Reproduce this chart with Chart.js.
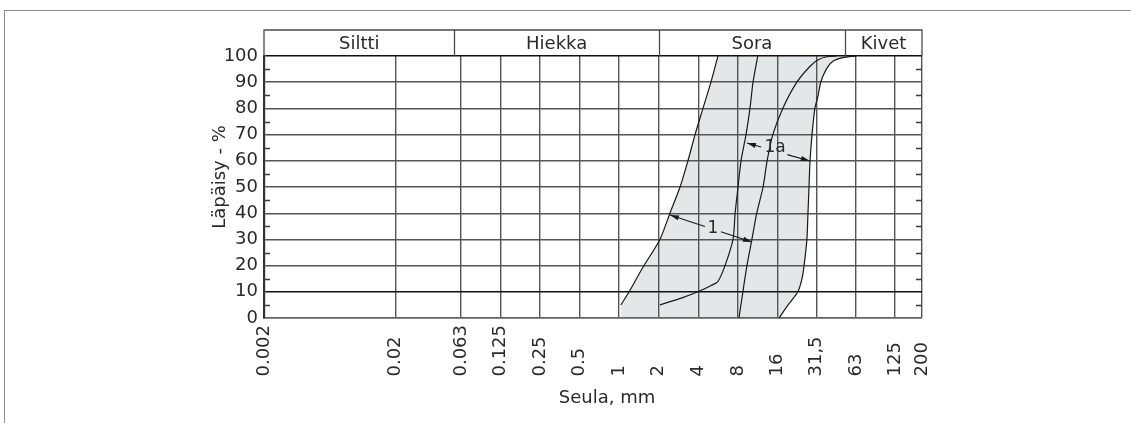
<!DOCTYPE html>
<html>
<head>
<meta charset="utf-8">
<script src="https://cdn.jsdelivr.net/npm/chart.js@4/dist/chart.umd.min.js"></script>
<style>
html,body{margin:0;padding:0;background:#fff;}
#wrap{position:relative;width:1131px;height:423px;overflow:hidden;}
#frame{position:absolute;left:4px;top:10px;width:1140px;height:430px;border-top:1px solid #8c8c8c;border-left:1px solid #8c8c8c;}
#c{position:absolute;left:0;top:0;}
</style>
</head>
<body>
<div id="wrap"><div id="frame"></div><canvas id="c" width="1131" height="423"></canvas></div>
<script>
// ---- axis data ----
const sieveSizes  = [0.002, 0.02, 0.063, 0.125, 0.25, 0.5, 1, 2, 4, 8, 16, 31.5, 63, 125, 200];
const sieveLabels = ['0.002','0.02','0.063','0.125','0.25','0.5','1','2','4','8','16','31,5','63','125','200'];
const passTicks = [0,10,20,30,40,50,60,70,80,90,100];
const passMinorTicks = [5,15,25,35,45,55,65,75,85,95];
const zoneNames  = ['Siltti','Hiekka','Sora','Kivet'];
const zoneLimits = [0.002, 0.056, 2, 52, 200];

// ---- grading curves: sieve (mm) and passing (%) ----
const curve1Left_mm   = [1.03, 1.19, 1.5, 2.04, 2.43, 2.9, 3.33, 3.77, 4.33, 4.98, 5.63];
const curve1Left_pct  = [5, 10, 19, 30, 40, 50, 60, 70, 80, 90, 100];
const curve1aLeft_mm  = [2.04, 3.0, 3.97, 5.0, 5.63, 6.37, 7.33, 7.6, 8.0, 8.43, 9.2, 9.86, 10.4, 11.3];
const curve1aLeft_pct = [5, 7.7, 10, 12.4, 14, 20, 30, 40, 50, 60, 70, 80, 90, 100];
const curve1Right_mm  = [8.13, 8.71, 9.35, 10.2, 11.1, 12.4, 13.3, 14.7, 17.5, 22.4, 28.1, 32.3, 38, 45];
const curve1Right_pct = [0, 10, 20, 30, 40, 50, 60, 70, 80, 90, 96, 98.5, 99.7, 100];
const curve1aRight_mm  = [16.4, 19.2, 22.8, 24.5, 25.4, 26.7, 27.2, 27.7, 28.2, 29.2, 30.7, 32.5, 34, 37.5, 42, 50, 63];
const curve1aRight_pct = [0, 5, 10, 15, 20, 30, 40, 50, 60, 70, 80, 85, 90, 95, 98, 99.4, 100];

// ---- band annotations (mm, %) ----
const bandNames   = ['1', '1a'];
const bandFrom_mm = [2.43, 9.35];
const bandFrom_pct= [39.3, 66.8];
const bandTo_mm   = [10.2, 28.1];
const bandTo_pct  = [29, 59.9];
const bandText_mm = [5.16, 15.3];
const bandText_pct= [34, 64.9];

const FONT = "'DejaVu Sans', Verdana, sans-serif";
const TXT = '#2a2a2a';

function pts(xs, ys){ return xs.map((v,i)=>({x:v, y:ys[i]})); }
function padLabel(s){
  let u = 0;
  for (const ch of s) u += /[0-9]/.test(ch) ? 2 : 1;
  return s + ' '.repeat(Math.max(0, 9 - u));
}

// envelope polygon (outer curves)
const envelope = [{x: curve1Left_mm[0], y: 0}]
  .concat(pts(curve1Left_mm, curve1Left_pct))
  .concat(pts(curve1aRight_mm, curve1aRight_pct).reverse());
envelope.push({x: curve1Left_mm[0], y: 0});

const curveStyle = {showLine:true, borderColor:'#1a1a1a', borderWidth:1.2, pointRadius:0, fill:false, tension:0.25};

const decor = {
  id: 'decor',
  afterDatasetsDraw(chart){
    const {ctx, scales:{x, y}} = chart;
    ctx.save();
    ctx.font = '17px ' + FONT;
    ctx.textAlign = 'center'; ctx.textBaseline = 'middle';
    for (let i = 0; i < bandNames.length; i++){
      const x1 = x.getPixelForValue(bandFrom_mm[i]), y1 = y.getPixelForValue(bandFrom_pct[i]);
      const x2 = x.getPixelForValue(bandTo_mm[i]),   y2 = y.getPixelForValue(bandTo_pct[i]);
      const tx = x.getPixelForValue(bandText_mm[i]), ty = y.getPixelForValue(bandText_pct[i]);
      const dx = x2-x1, dy = y2-y1, L = Math.hypot(dx,dy), ux = dx/L, uy = dy/L;
      const t = (tx-x1)*ux + (ty-y1)*uy;
      const g = ctx.measureText(bandNames[i]).width/2 + 3;
      ctx.strokeStyle = '#1a1a1a'; ctx.lineWidth = 1.1;
      ctx.beginPath();
      ctx.moveTo(x1, y1); ctx.lineTo(x1+ux*(t-g), y1+uy*(t-g));
      ctx.moveTo(x1+ux*(t+g), y1+uy*(t+g)); ctx.lineTo(x2, y2);
      ctx.stroke();
      ctx.fillStyle = '#1a1a1a';
      const head = (px,py,vx,vy)=>{
        const hl = 9, hw = 2.6;
        ctx.beginPath();
        ctx.moveTo(px,py);
        ctx.lineTo(px+vx*hl - vy*hw, py+vy*hl + vx*hw);
        ctx.lineTo(px+vx*hl + vy*hw, py+vy*hl - vx*hw);
        ctx.closePath(); ctx.fill();
      };
      head(x1,y1,ux,uy); head(x2,y2,-ux,-uy);
      ctx.fillStyle = TXT;
      ctx.fillText(bandNames[i], tx, ty);
    }
    ctx.restore();
  },
  afterDraw(chart){
    const {ctx, chartArea:a, scales:{x, y}} = chart;
    ctx.save();
    // minor ticks on both sides
    ctx.strokeStyle = '#3a3a3a'; ctx.lineWidth = 1.4;
    ctx.beginPath();
    for (const v of passMinorTicks){
      const py = Math.round(y.getPixelForValue(v)) + 0.5;
      ctx.moveTo(a.left, py); ctx.lineTo(a.left+6, py);
      ctx.moveTo(a.right-6, py); ctx.lineTo(a.right, py);
    }
    ctx.stroke();
    // header band with soil classes
    const top = 30, bot = a.top;
    const xl = x.getPixelForValue(zoneLimits[0]), xr = x.getPixelForValue(zoneLimits[zoneLimits.length-1]);
    ctx.strokeStyle = '#4a4a4a'; ctx.lineWidth = 1.3;
    ctx.beginPath();
    ctx.moveTo(xl, bot); ctx.lineTo(xl, top); ctx.lineTo(xr, top); ctx.lineTo(xr, bot);
    for (let i = 1; i < zoneLimits.length-1; i++){
      const px = Math.round(x.getPixelForValue(zoneLimits[i])) + 0.5;
      ctx.moveTo(px, top); ctx.lineTo(px, bot);
    }
    ctx.stroke();
    ctx.fillStyle = TXT; ctx.font = '18px ' + FONT;
    ctx.textAlign = 'center'; ctx.textBaseline = 'middle';
    for (let i = 0; i < zoneNames.length; i++){
      const c = (x.getPixelForValue(zoneLimits[i]) + x.getPixelForValue(zoneLimits[i+1]))/2;
      ctx.fillText(zoneNames[i], c, (top+bot)/2 + 1);
    }
    // axis titles
    ctx.font = '18px ' + FONT;
    ctx.fillText('Seula, mm', (a.left+a.right)/2 + 14, 398);
    ctx.translate(220, (a.top+a.bottom)/2 - 10);
    ctx.rotate(-Math.PI/2);
    ctx.fillText('Läpäisy - %', 0, 0);
    ctx.restore();
  }
};

new Chart(document.getElementById('c'), {
  type: 'scatter',
  data: {
    datasets: [
      {data: envelope, showLine:true, borderWidth:0, borderColor:'rgba(0,0,0,0)', backgroundColor:'#e5e6e7', pointRadius:0, fill:'shape', tension:0},
      Object.assign({data: pts(curve1Left_mm, curve1Left_pct)}, curveStyle),
      Object.assign({data: pts(curve1aLeft_mm, curve1aLeft_pct)}, curveStyle),
      Object.assign({data: pts(curve1Right_mm, curve1Right_pct)}, curveStyle),
      Object.assign({data: pts(curve1aRight_mm, curve1aRight_pct)}, curveStyle)
    ]
  },
  options: {
    responsive: false,
    devicePixelRatio: 1,
    animation: false,
    layout: {padding: {left: 200, right: 209, top: 56, bottom: 0}},
    plugins: {legend:{display:false}, tooltip:{enabled:false}, filler:{drawTime:'beforeDraw'}},
    scales: {
      x: {
        type: 'logarithmic', min: 0.002, max: 200,
        afterBuildTicks: s => { s.ticks = sieveSizes.map(v => ({value: v})); },
        afterFit: s => { s.height = 105; },
        ticks: {
          autoSkip: false, maxRotation: 90, minRotation: 90, padding: 7,
          color: TXT, font: {family: FONT, size: 18},
          callback: (v, i) => padLabel(sieveLabels[i])
        },
        grid: {color: '#555', lineWidth: 1.4, drawTicks: false},
        border: {color: '#666', width: 1.4}
      },
      y: {
        min: 0, max: 100,
        afterBuildTicks: s => { s.ticks = passTicks.map(v => ({value: v})); },
        afterFit: s => { s.width = 64; },
        ticks: {padding: 6, color: TXT, font: {family: FONT, size: 18}},
        grid: {
          color: c => (c.tick && (c.tick.value === 10 || c.tick.value === 100)) ? '#111' : '#555',
          lineWidth: 1.4, drawTicks: false
        },
        border: {color: '#333', width: 2.2}
      }
    }
  },
  plugins: [decor]
});
</script>
</body>
</html>
